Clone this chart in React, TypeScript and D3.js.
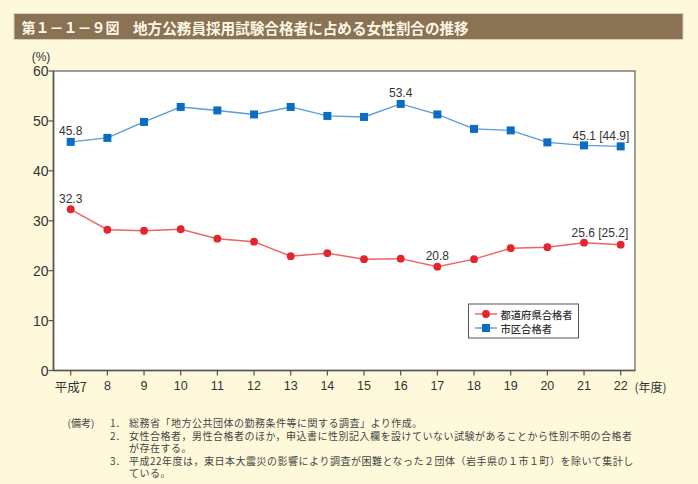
import React from "react";
import * as d3 from "d3";

const years = ["平成7", "8", "9", "10", "11", "12", "13", "14", "15", "16", "17", "18", "19", "20", "21", "22"];
const prefValues = [32.3, 28.2, 28.0, 28.3, 26.4, 25.8, 22.9, 23.5, 22.3, 22.4, 20.8, 22.3, 24.5, 24.7, 25.6, 25.2];
const cityValues = [45.8, 46.6, 49.8, 52.8, 52.1, 51.3, 52.8, 51.0, 50.8, 53.4, 51.3, 48.4, 48.1, 45.7, 45.1, 44.9];
const yTicks = [0, 10, 20, 30, 40, 50, 60];
const seriesNames = ["都道府県合格者", "市区合格者"];
const prefLabels = [
  { i: 0, text: "32.3" },
  { i: 10, text: "20.8" },
];
const cityLabels = [
  { i: 0, text: "45.8" },
  { i: 9, text: "53.4" },
];
const lastLabels = { pref: ["25.6", "[25.2]"], city: ["45.1", "[44.9]"] };
const titleNo = "第１－１－９図";
const titleText = "地方公務員採用試験合格者に占める女性割合の推移";
const notes = [
  { head: "(備考)", num: "1．", lines: ["総務省「地方公共団体の勤務条件等に関する調査」より作成。"] },
  { head: "", num: "2．", lines: ["女性合格者，男性合格者のほか，申込書に性別記入欄を設けていない試験があることから性別不明の合格者", "が存在する。"] },
  { head: "", num: "3．", lines: ["平成22年度は，東日本大震災の影響により調査が困難となった２団体（岩手県の１市１町）を除いて集計し", "ている。"] },
];

const W = 698;
const H = 484;
const frame = { left: 53.5, right: 635, top: 71, bottom: 370.5 };
const BG = "#FFF9DB";
const RED = "#E3262B";
const RED_LINE = "#EE6464";
const BLUE = "#0A6CC2";
const BLUE_LINE = "#5D9BD6";
const TXT = "#333";
const NUMF = "'Liberation Sans', Arial, sans-serif";
const JPF = "'Noto Sans CJK JP', sans-serif";

export default function App() {
  const x = d3.scalePoint<string>().domain(years).range([70.7, 620.7]);
  const y = d3.scaleLinear().domain([0, 60]).range([frame.bottom, frame.top]);
  const line = d3
    .line<number>()
    .x((_, i) => x(years[i]) as number)
    .y((d) => y(d));

  const noteY = [422.5, 435, 447, 460.5, 472.5];
  let li = 0;

  return (
    <svg
      width={W}
      height={H}
      style={{ position: "absolute", left: 0, top: 0, display: "block" }}
      xmlns="http://www.w3.org/2000/svg"
    >
      <rect x={0} y={0} width={W} height={H} fill={BG} />
      {/* title bar */}
      <rect x={14} y={13.5} width={669} height={26} fill="#8A7255" stroke="#D9CFB8" strokeWidth={1} />
      <text x={21.5} y={27} dominantBaseline="central" fill="#FFF8E6" fontFamily={JPF} fontWeight="bold" fontSize={14}>
        {titleNo}
      </text>
      <text x={133} y={27} dominantBaseline="central" fill="#FFF8E6" fontFamily={JPF} fontWeight="bold" fontSize={14.6}>
        {titleText}
      </text>

      {/* plot frame */}
      <rect
        x={frame.left}
        y={frame.top}
        width={frame.right - frame.left}
        height={frame.bottom - frame.top}
        fill="#fff"
        stroke="#6E6A66"
        strokeWidth={1.3}
      />
      <line x1={frame.left} x2={frame.left} y1={frame.top} y2={frame.bottom} stroke="#555" strokeWidth={1.6} />
      <line x1={frame.left} x2={frame.right} y1={frame.bottom} y2={frame.bottom} stroke="#555" strokeWidth={1.6} />

      {/* y axis */}
      <text x={41} y={57} textAnchor="middle" dominantBaseline="central" fill={TXT} fontFamily={NUMF} fontSize={12}>
        (%)
      </text>
      {yTicks.map((t) => (
        <g key={t}>
          <line x1={frame.left - 5} x2={frame.left} y1={y(t)} y2={y(t)} stroke="#555" strokeWidth={1.2} />
          <text
            x={48.5}
            y={y(t)}
            textAnchor="end"
            dominantBaseline="central"
            fill={TXT}
            fontFamily={NUMF}
            fontSize={14}
          >
            {t}
          </text>
        </g>
      ))}

      {/* x axis */}
      {years.map((yr) => (
        <g key={yr}>
          <line x1={x(yr)} x2={x(yr)} y1={frame.bottom} y2={frame.bottom + 5} stroke="#555" strokeWidth={1.2} />
          <text
            x={x(yr) as number}
            y={386}
            textAnchor="middle"
            dominantBaseline="central"
            fill={TXT}
            fontFamily={yr === "平成7" ? JPF : NUMF}
            fontSize={12.5}
          >
            {yr}
          </text>
        </g>
      ))}
      <text x={634.5} y={386} dominantBaseline="central" fill={TXT} fontFamily={JPF} fontSize={12}>
        (年度)
      </text>

      {/* lines */}
      <path d={line(cityValues) || ""} fill="none" stroke={BLUE_LINE} strokeWidth={1.4} />
      <path d={line(prefValues) || ""} fill="none" stroke={RED_LINE} strokeWidth={1.4} />
      {cityValues.map((v, i) => (
        <rect
          key={"c" + i}
          x={(x(years[i]) as number) - 4}
          y={y(v) - 4}
          width={8}
          height={8}
          fill={BLUE}
        />
      ))}
      {prefValues.map((v, i) => (
        <circle key={"p" + i} cx={x(years[i]) as number} cy={y(v)} r={3.9} fill={RED} />
      ))}

      {/* data labels */}
      {cityLabels.map((l) => (
        <text
          key={"cl" + l.i}
          x={x(years[l.i]) as number}
          y={y(cityValues[l.i]) - 6.5}
          textAnchor="middle"
          fill={TXT}
          fontFamily={NUMF}
          fontSize={12}
        >
          {l.text}
        </text>
      ))}
      {prefLabels.map((l) => (
        <text
          key={"pl" + l.i}
          x={x(years[l.i]) as number}
          y={y(prefValues[l.i]) - 6.5}
          textAnchor="middle"
          fill={TXT}
          fontFamily={NUMF}
          fontSize={12}
        >
          {l.text}
        </text>
      ))}
      <text
        x={(x(years[14]) as number) - 11.5}
        y={y(cityValues[14]) - 5.5}
        fill={TXT}
        fontFamily={NUMF}
        fontSize={12}
      >
        {lastLabels.city[0] + " " + lastLabels.city[1]}
      </text>
      <text
        x={(x(years[14]) as number) - 12.5}
        y={y(prefValues[14]) - 5.5}
        fill={TXT}
        fontFamily={NUMF}
        fontSize={12}
      >
        {lastLabels.pref[0] + " " + lastLabels.pref[1]}
      </text>

      {/* legend */}
      <rect x={468.5} y={304} width={110} height={34} fill="#fff" stroke="#555" strokeWidth={1} />
      <line x1={475} x2={497} y1={314} y2={314} stroke={RED_LINE} strokeWidth={1.4} />
      <circle cx={486} cy={314} r={3.9} fill={RED} />
      <text x={500.5} y={314} dominantBaseline="central" fill={TXT} fontFamily={JPF} fontSize={10.3} fontWeight="500">
        {seriesNames[0]}
      </text>
      <line x1={475} x2={497} y1={328} y2={328} stroke={BLUE_LINE} strokeWidth={1.4} />
      <rect x={482} y={324} width={8} height={8} fill={BLUE} />
      <text x={500.5} y={328} dominantBaseline="central" fill={TXT} fontFamily={JPF} fontSize={10.3} fontWeight="500">
        {seriesNames[1]}
      </text>

      {/* notes */}
      {notes.map((n, k) => (
        <g key={"n" + k}>
          {n.head && (
            <text x={67.5} y={noteY[li]} dominantBaseline="central" fill="#444" fontFamily={JPF} fontSize={10}>
              {n.head}
            </text>
          )}
          <text x={110} y={noteY[li]} dominantBaseline="central" fill="#444" fontFamily={JPF} fontSize={10}>
            {n.num}
          </text>
          {n.lines.map((ln, j) => {
            const yy = noteY[li++];
            return (
              <text
                key={j}
                x={129}
                y={yy}
                dominantBaseline="central"
                fill="#444"
                fontFamily={JPF}
                fontSize={10}
                letterSpacing={0.5}
              >
                {ln}
              </text>
            );
          })}
        </g>
      ))}
    </svg>
  );
}
